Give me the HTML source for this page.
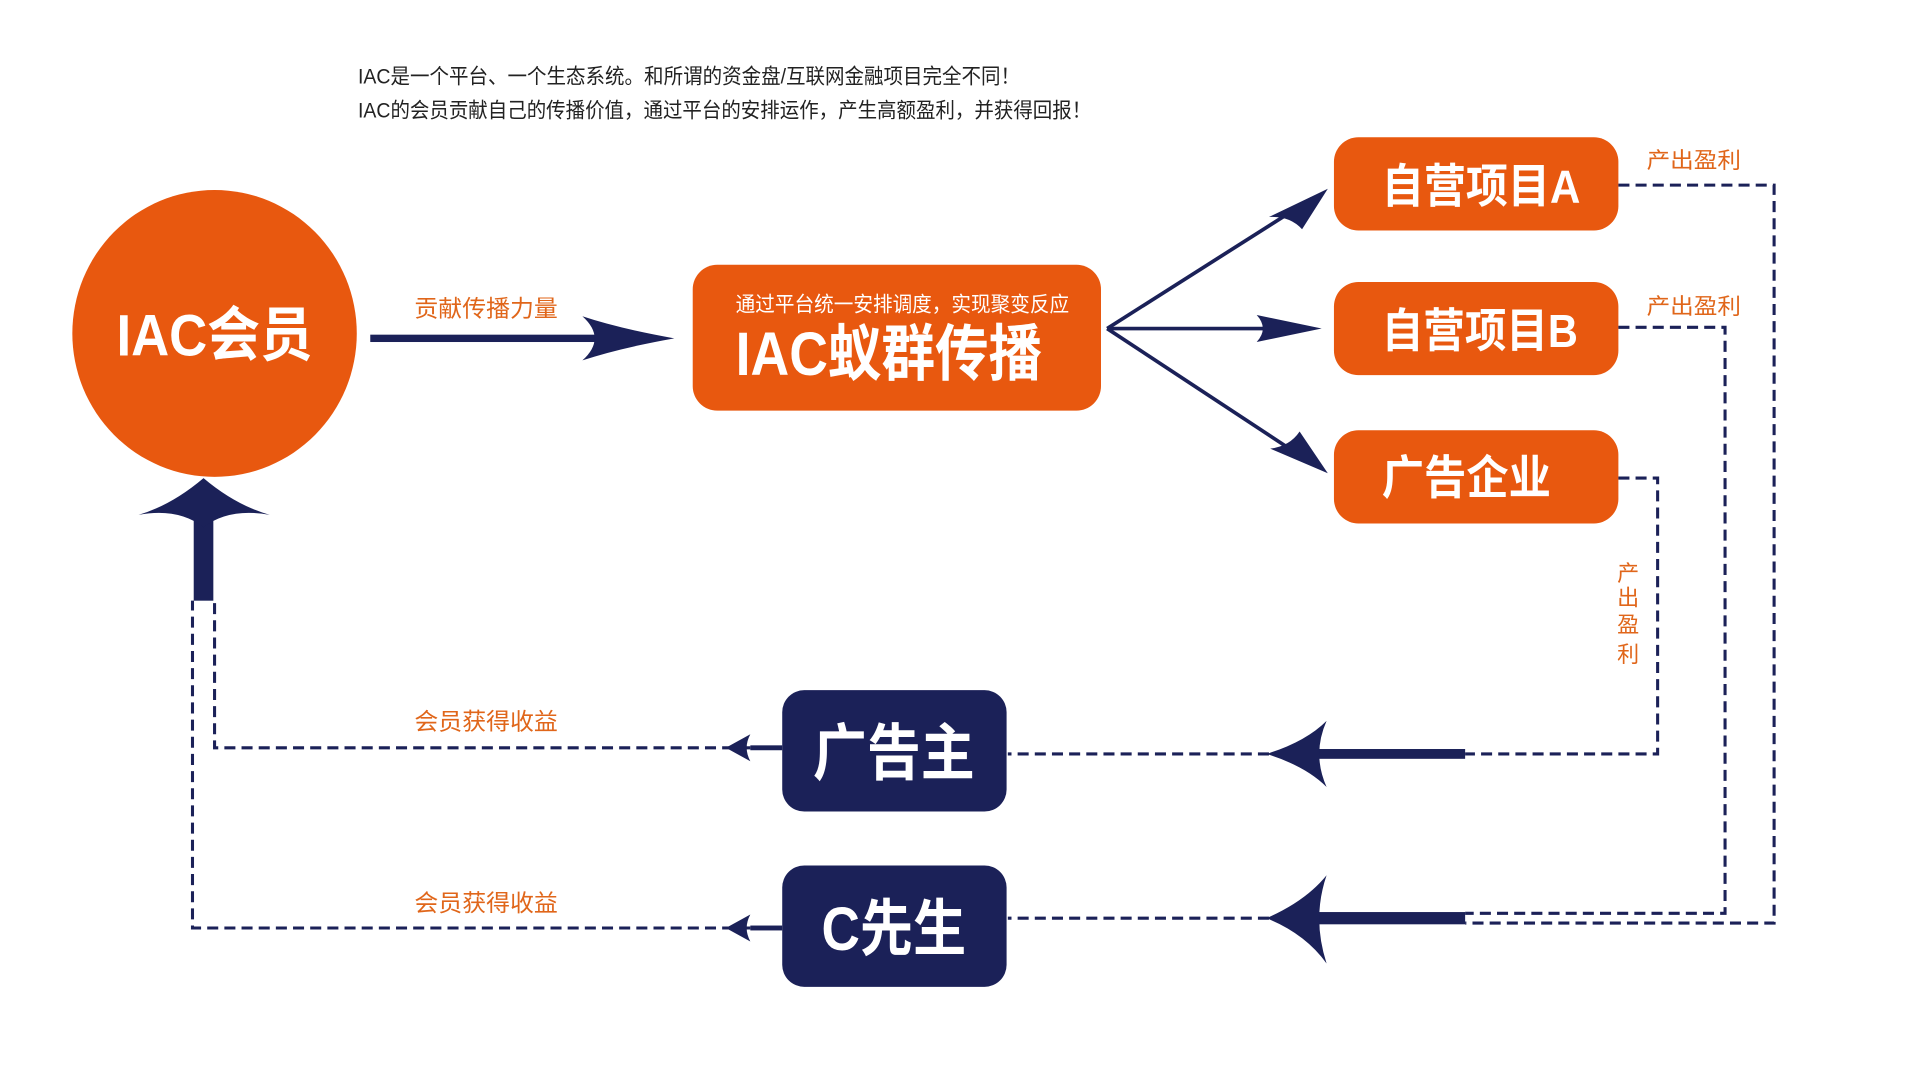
<!DOCTYPE html>
<html><head><meta charset="utf-8"><style>
html,body{margin:0;padding:0;background:#fff;width:1920px;height:1080px;overflow:hidden}
svg{display:block}
text{font-family:"Liberation Sans","Noto Sans CJK SC",sans-serif}
</style></head><body>
<svg width="1920" height="1080" viewBox="0 0 1566 881" preserveAspectRatio="none" xmlns="http://www.w3.org/2000/svg">
<rect width="1566" height="881" fill="#fff"/>
<g fill="#222" font-size="17">
<text x="292" y="68" textLength="540" lengthAdjust="spacingAndGlyphs">IAC是一个平台、一个生态系统。和所谓的资金盘/互联网金融项目完全不同！</text>
<text x="292" y="96" textLength="598" lengthAdjust="spacingAndGlyphs">IAC的会员贡献自己的传播价值，通过平台的安排运作，产生高额盈利，并获得回报！</text>
</g>
<ellipse cx="175" cy="272" rx="116" ry="117" fill="#e8580f"/>
<text x="175" y="290" font-size="48" font-weight="bold" fill="#fff" text-anchor="middle" textLength="160" lengthAdjust="spacingAndGlyphs">IAC会员</text>
<rect x="302" y="273" width="200" height="6" fill="#1b2158"/>
<path d="M550 276 Q505 268 475 258 Q495 276 475 294 Q505 284 550 276Z" fill="#1b2158"/>
<text x="338" y="258" font-size="19" fill="#e0661a" textLength="117" lengthAdjust="spacingAndGlyphs">贡献传播力量</text>
<rect x="565" y="216" width="333" height="119" rx="20" fill="#e8580f"/>
<text x="600" y="254" font-size="17" fill="#fff" textLength="272" lengthAdjust="spacingAndGlyphs">通过平台统一安排调度，实现聚变反应</text>
<text x="600" y="306" font-size="50" font-weight="bold" fill="#fff" textLength="250" lengthAdjust="spacingAndGlyphs">IAC蚁群传播</text>
<g stroke="#1b2158" stroke-width="3" fill="none">
<line x1="903" y1="268" x2="1070" y2="162"/>
<line x1="903" y1="268" x2="1065" y2="268"/>
<line x1="903" y1="268" x2="1070" y2="378"/>
</g>
<g fill="#1b2158">
<path d="M1083 154 L1035 177 Q1052 176 1062 187Z"/>
<path d="M1078 268 L1025 257 Q1035 268 1025 279Z"/>
<path d="M1083 386 L1060 352 Q1052 364 1036 366Z"/>
</g>
<g fill="#e8580f">
<rect x="1088" y="112" width="232" height="76" rx="20"/>
<rect x="1088" y="230" width="232" height="76" rx="20"/>
<rect x="1088" y="351" width="232" height="76" rx="20"/>
</g>
<g fill="#fff" font-size="38" font-weight="bold">
<text x="1127" y="165" textLength="162" lengthAdjust="spacingAndGlyphs">自营项目A</text>
<text x="1127" y="283" textLength="160" lengthAdjust="spacingAndGlyphs">自营项目B</text>
<text x="1127" y="403" textLength="138" lengthAdjust="spacingAndGlyphs">广告企业</text>
</g>
<g fill="#e0661a" font-size="18">
<text x="1343" y="137" textLength="77" lengthAdjust="spacingAndGlyphs">产出盈利</text>
<text x="1343" y="256" textLength="77" lengthAdjust="spacingAndGlyphs">产出盈利</text>
<text x="1319" y="474">产</text>
<text x="1319" y="494">出</text>
<text x="1319" y="516">盈</text>
<text x="1319" y="540">利</text>
</g>
<g stroke="#1b2158" stroke-width="2.5" fill="none" stroke-dasharray="9 5">
<polyline points="1320,151 1447,151 1447,753 1195,753"/>
<polyline points="1320,267 1407,267 1407,745 1195,745"/>
<polyline points="1320,390 1352,390 1352,615 1195,615"/>
<line x1="1035" y1="615" x2="822" y2="615"/>
<line x1="1035" y1="749" x2="822" y2="749"/>
<polyline points="612,610 175,610 175,490"/>
<polyline points="612,757 157,757 157,490"/>
</g>
<g fill="#1b2158">
<rect x="1075" y="611" width="120" height="8"/>
<path d="M1033 615 Q1065 605 1082 588 Q1070 615 1082 642 Q1065 625 1033 615Z"/>
<rect x="1075" y="744" width="120" height="10"/>
<path d="M1033 749 Q1065 735 1082 714 Q1070 749 1082 786 Q1065 762 1033 749Z"/>
<rect x="612" y="608" width="26" height="4"/>
<path d="M592 610 L612 599 Q606 610 612 621Z"/>
<rect x="612" y="755" width="26" height="4"/>
<path d="M592 757 L612 746 Q606 757 612 768Z"/>
<rect x="158" y="410" width="16" height="80"/>
<path d="M166 390 Q140 412 113 420 Q145 414 166 430 Q187 414 220 420 Q192 412 166 390Z"/>
</g>
<g fill="#e0661a" font-size="19">
<text x="338" y="595" textLength="117" lengthAdjust="spacingAndGlyphs">会员获得收益</text>
<text x="338" y="743" textLength="117" lengthAdjust="spacingAndGlyphs">会员获得收益</text>
</g>
<g fill="#1b2158">
<rect x="638" y="563" width="183" height="99" rx="18"/>
<rect x="638" y="706" width="183" height="99" rx="18"/>
</g>
<g fill="#fff" font-size="50" font-weight="bold">
<text x="729" y="632" text-anchor="middle" textLength="132" lengthAdjust="spacingAndGlyphs">广告主</text>
<text x="729" y="775" text-anchor="middle" textLength="118" lengthAdjust="spacingAndGlyphs">C先生</text>
</g>
</svg>
</body></html>
